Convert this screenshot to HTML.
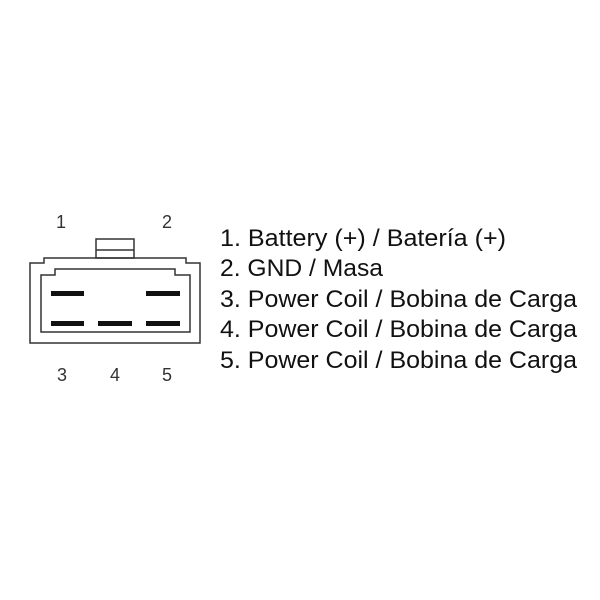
<!DOCTYPE html>
<html><head><style>body{margin:0;background:#fff}svg{display:block}</style></head>
<body>
<svg width="600" height="600" viewBox="0 0 600 600" xmlns="http://www.w3.org/2000/svg">
<rect width="600" height="600" fill="#fff"/>
<g fill="none" stroke="#333" stroke-width="1.5">
<path d="M30,263 H44 V258 H186 V263 H200 V343 H30 Z"/>
<path d="M41,275 H55 V269 H175 V275 H190 V332 H41 Z"/>
<rect x="96" y="239" width="38" height="19"/>
<line x1="96" y1="250" x2="134" y2="250"/>
</g>
<g fill="#111">
<rect x="51" y="291" width="33" height="5"/>
<rect x="146" y="291" width="34" height="5"/>
<rect x="51" y="321" width="33" height="5"/>
<rect x="98" y="321" width="34" height="5"/>
<rect x="146" y="321" width="34" height="5"/>
</g>
<g font-family="Liberation Sans, sans-serif" font-size="18" fill="#333" text-anchor="middle">
<text x="61" y="228">1</text>
<text x="167" y="228">2</text>
<text x="62" y="381">3</text>
<text x="115" y="381">4</text>
<text x="167" y="381">5</text>
</g>
<g font-family="Liberation Sans, sans-serif" font-size="24" fill="#111">
<text x="220" y="246" textLength="286" lengthAdjust="spacingAndGlyphs">1. Battery (+) / Batería (+)</text>
<text x="220" y="276" textLength="163" lengthAdjust="spacingAndGlyphs">2. GND / Masa</text>
<text x="220" y="307" textLength="357" lengthAdjust="spacingAndGlyphs">3. Power Coil / Bobina de Carga</text>
<text x="220" y="337" textLength="357" lengthAdjust="spacingAndGlyphs">4. Power Coil / Bobina de Carga</text>
<text x="220" y="368" textLength="357" lengthAdjust="spacingAndGlyphs">5. Power Coil / Bobina de Carga</text>
</g>
</svg>
</body></html>
